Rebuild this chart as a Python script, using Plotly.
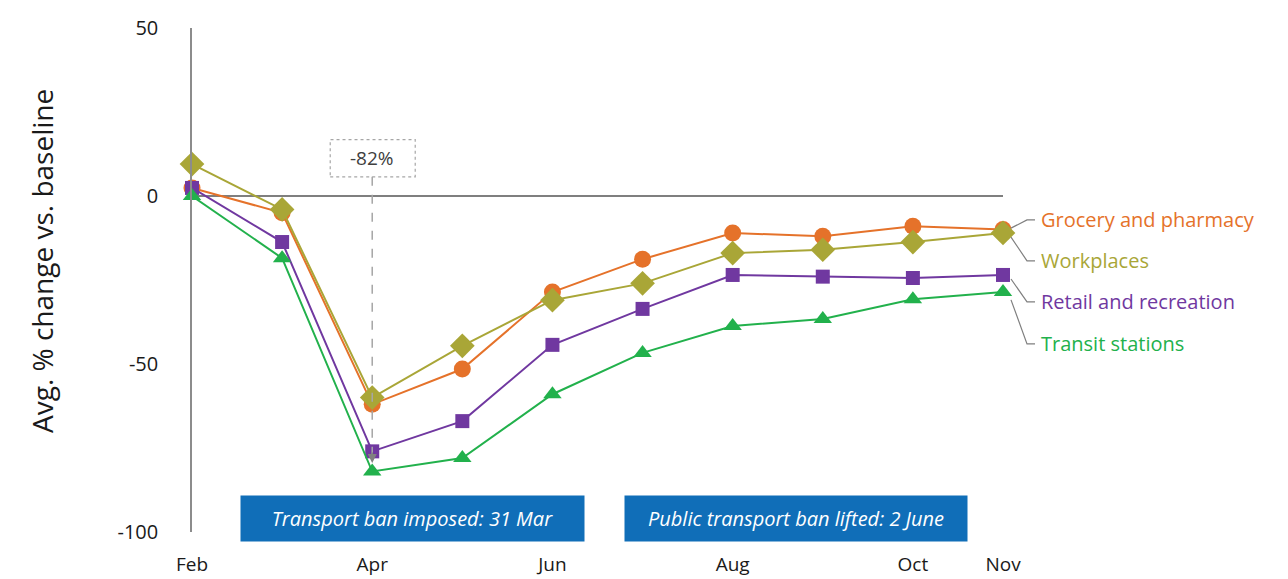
import plotly.graph_objects as go

# Monthly mobility, average % change vs. baseline
months = ["Feb", "Mar", "Apr", "May", "Jun", "Jul", "Aug", "Sep", "Oct", "Nov"]
tick_months = ["Feb", "Apr", "Jun", "Aug", "Oct", "Nov"]
y_ticks = [-100, -50, 0, 50]

grocery = [2.4, -5, -62, -51.5, -28.6, -18.8, -11, -12, -9, -10]
workplaces = [9.5, -4, -60, -44.6, -31, -26, -17, -16, -13.7, -11]
retail = [2.4, -13.7, -76, -67, -44.3, -33.6, -23.5, -24, -24.4, -23.5]
transit = [0, -18.5, -82, -78, -59, -46.7, -38.7, -36.6, -30.7, -28.6]

series = [
    ("Grocery and pharmacy", grocery, "#E5722A", "circle", 17, -7.1),
    ("Workplaces", workplaces, "#A9A637", "diamond", 19, -19.3),
    ("Retail and recreation", retail, "#7038A0", "square", 14, -31.5),
    ("Transit stations", transit, "#22B14C", "triangle-up", 16, -44.0),
]

FONT = "Open Sans"
W, H = 1288, 579
ML, MR, MT, MB = 192, 285, 28, 47
plot_w = W - ML - MR
plot_h = H - MT - MB
x = list(range(len(months)))
last = x[-1]
px_x = plot_w / last  # pixels per month step

fig = go.Figure()
for name, vals, color, sym, size, _ in series:
    fig.add_trace(go.Scatter(
        x=x, y=vals, mode="lines+markers", name=name,
        line=dict(color=color, width=2),
        marker=dict(symbol=sym, size=size, color=color),
        cliponaxis=False, showlegend=False,
    ))

shapes = []
annotations = []

# Direct labels with elbow leader lines (right of the plot area, paper x)
for name, vals, color, sym, size, label_y in series:
    x0 = 1 + 8 / plot_w
    x1 = 1 + 24 / plot_w
    x2 = 1 + 32 / plot_w
    y0 = vals[-1] + (label_y - vals[-1]) * 0.15
    shapes.append(dict(
        type="path", xref="paper", yref="y",
        path=f"M {x0},{y0} L {x1},{label_y} L {x2},{label_y}",
        line=dict(color="#7f7f7f", width=1.2),
    ))
    annotations.append(dict(
        x=1 + 36 / plot_w, y=label_y, xref="paper", yref="y",
        text=name, showarrow=False, xanchor="left", yanchor="middle",
        font=dict(family=FONT, size=20, color=color),
    ))

# Trough callout for transit stations
apr = months.index("Apr")
trough = transit[apr]
box_lo, box_hi = 5.7, 16.8
shapes.append(dict(
    type="rect", xref="x", yref="y",
    x0=apr - 42 / px_x, x1=apr + 43 / px_x, y0=box_lo, y1=box_hi,
    line=dict(color="#a6a6a6", width=1.2, dash="dot"),
    fillcolor="white",
))
annotations.append(dict(
    x=apr, y=(box_lo + box_hi) / 2, xref="x", yref="y",
    text=f"{trough:.0f}%", showarrow=False,
    font=dict(family=FONT, size=19, color="#404040"),
))
shapes.append(dict(
    type="line", xref="x", yref="y",
    x0=apr, x1=apr, y0=box_lo, y1=trough + 3.5,
    line=dict(color="#a6a6a6", width=1.5, dash="dash"),
))
annotations.append(dict(
    x=apr, y=trough + 2.5, xref="x", yref="y", text="",
    showarrow=True, arrowhead=2, arrowsize=1.2, arrowwidth=1.5,
    arrowcolor="#808080", ax=0, ay=-12,
))

# Event banners
for text, cx, w in [
    ("Transport ban imposed: 31 Mar", 2.45, 341),
    ("Public transport ban lifted: 2 June", 6.70, 340),
]:
    annotations.append(dict(
        x=cx, y=-96, xref="x", yref="y", text=f"<i>{text}</i>",
        showarrow=False, width=w, height=43, bgcolor="#106EB8",
        font=dict(family=FONT, size=20, color="white"),
        align="center", valign="middle",
    ))

# Y-axis title, set slightly above the plot's vertical centre
annotations.append(dict(
    x=(42 - ML) / plot_w, y=1 - (261 - MT) / plot_h,
    xref="paper", yref="paper", text="Avg. % change vs. baseline",
    textangle=-90, showarrow=False, xanchor="center", yanchor="middle",
    font=dict(family=FONT, size=28, color="#1a1a1a"),
))

fig.update_layout(
    width=W, height=H,
    margin=dict(l=ML, r=MR, t=MT, b=MB, autoexpand=False),
    plot_bgcolor="white", paper_bgcolor="white",
    shapes=shapes, annotations=annotations,
    font=dict(family=FONT, color="#1a1a1a"),
)
fig.update_xaxes(
    range=[0, last], showgrid=False, zeroline=False, showline=False,
    tickvals=[months.index(m) for m in tick_months], ticktext=tick_months,
    tickfont=dict(family=FONT, size=19, color="#1a1a1a"),
    ticks="", ticklabelstandoff=19, automargin=False,
)
fig.update_yaxes(
    range=[-100, 50], tickvals=y_ticks, ticktext=[str(v) for v in y_ticks],
    showgrid=False, showline=True, linecolor="#8c8c8c", linewidth=1.5,
    zeroline=True, zerolinecolor="#7f7f7f", zerolinewidth=1.5,
    tickfont=dict(family=FONT, size=20, color="#1a1a1a"),
    ticks="", ticklabelstandoff=28, automargin=False,
)

fig.write_html("out.html")
